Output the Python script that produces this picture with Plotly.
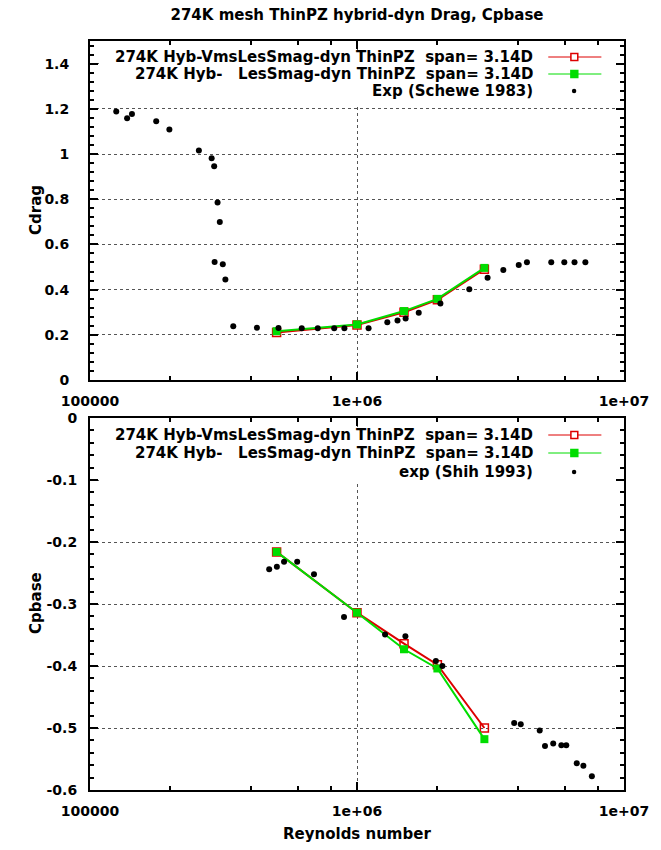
import plotly.graph_objects as go

# ---------------- data ----------------
sim_re = [5e5, 1e6, 1.5e6, 2e6, 3e6]
cd_vms = [0.210, 0.243, 0.300, 0.355, 0.490]
cd_les = [0.216, 0.246, 0.305, 0.359, 0.496]
cp_vms = [-0.216, -0.314, -0.364, -0.398, -0.500]
cp_les = [-0.216, -0.314, -0.373, -0.404, -0.518]

schewe_re = [125400, 137700, 143600, 177000, 198300, 255700, 285500, 291800,
             300400, 306300, 292900, 314300, 321400, 344000, 421800, 508000,
             621000, 713000, 821500, 897000, 1105000, 1298700, 1418000,
             1521000, 1703000, 2053000, 2634000, 3084000, 3532000, 4034000,
             4330000, 5340000, 5976000, 6526000, 7166000]
schewe_cd = [1.188, 1.158, 1.177, 1.145, 1.108, 1.015, 0.981, 0.946,
             0.785, 0.699, 0.522, 0.512, 0.445, 0.238, 0.231, 0.230,
             0.229, 0.229, 0.229, 0.229, 0.229, 0.256, 0.263,
             0.272, 0.298, 0.338, 0.402, 0.452, 0.487, 0.509,
             0.521, 0.521, 0.521, 0.521, 0.521]

shih_re = [469000, 501000, 533000, 597000, 690000, 894000, 1274000, 1518000,
           1974000, 2088000, 3878000, 4105000, 4834000, 5059000, 5431000,
           5827000, 6078000, 6653000, 7045000, 7579000]
shih_cp = [-0.244, -0.240, -0.232, -0.232, -0.252, -0.321, -0.349, -0.352,
           -0.392, -0.400, -0.492, -0.494, -0.504, -0.529, -0.525,
           -0.528, -0.528, -0.557, -0.561, -0.578]

x_tickvals = [1e5, 1e6, 1e7]
x_ticktext = ["100000", "1e+06", "1e+07"]
x_minor = [2e5, 4e5, 6e5, 8e5, 2e6, 4e6, 6e6, 8e6]
cd_tickvals = [0, 0.2, 0.4, 0.6, 0.8, 1.0, 1.2, 1.4]
cd_ticktext = ["0", "0.2", "0.4", "0.6", "0.8", "1", "1.2", "1.4"]
cp_tickvals = [0, -0.1, -0.2, -0.3, -0.4, -0.5, -0.6]
cp_ticktext = ["0", "-0.1", "-0.2", "-0.3", "-0.4", "-0.5", "-0.6"]

lab_vms = "274K Hyb-VmsLesSmag-dyn ThinPZ\u00a0\u00a0span= 3.14D"
lab_les = "274K Hyb-\u00a0\u00a0\u00a0LesSmag-dyn ThinPZ\u00a0\u00a0span= 3.14D"
lab_schewe = "Exp (Schewe 1983)"
lab_shih = "exp (Shih 1993)"

RED = "#dd0000"
GREEN = "#00dd00"
FONT = dict(family="DejaVu Sans", size=15, color="black", weight="bold")
TICKFONT = dict(family="DejaVu Sans", size=14, color="black", weight="bold")

W, H = 661, 850
L, R, T, B = 90, 28, 41, 60
PW, PH = W - L - R, H - T - B


def xp(px):
    return (px - L) / PW


def yp(py):
    return (H - B - py) / PH


fig = go.Figure()

# top panel
fig.add_trace(go.Scatter(x=sim_re, y=cd_vms, mode="lines+markers", xaxis="x", yaxis="y",
                         line=dict(color=RED, width=2),
                         marker=dict(symbol="square-open", size=8, color=RED, line=dict(width=1.5, color=RED))))
fig.add_trace(go.Scatter(x=sim_re, y=cd_les, mode="lines+markers", xaxis="x", yaxis="y",
                         line=dict(color=GREEN, width=2),
                         marker=dict(symbol="square", size=8, color=GREEN)))
fig.add_trace(go.Scatter(x=schewe_re, y=schewe_cd, mode="markers", xaxis="x", yaxis="y",
                         marker=dict(symbol="circle", size=6, color="black")))
# bottom panel
fig.add_trace(go.Scatter(x=sim_re, y=cp_vms, mode="lines+markers", xaxis="x2", yaxis="y2",
                         line=dict(color=RED, width=2),
                         marker=dict(symbol="square-open", size=8, color=RED, line=dict(width=1.5, color=RED))))
fig.add_trace(go.Scatter(x=sim_re, y=cp_les, mode="lines+markers", xaxis="x2", yaxis="y2",
                         line=dict(color=GREEN, width=2),
                         marker=dict(symbol="square", size=8, color=GREEN)))
fig.add_trace(go.Scatter(x=shih_re, y=shih_cp, mode="markers", xaxis="x2", yaxis="y2",
                         marker=dict(symbol="circle", size=6, color="black")))

common_axis = dict(showline=True, linecolor="black", linewidth=2, mirror="allticks",
                   ticks="inside", ticklen=8, tickwidth=1.5, tickcolor="black",
                   showgrid=True, gridcolor="#555555", griddash="dot", gridwidth=1,
                   zeroline=False, tickfont=TICKFONT)

xcfg = dict(common_axis, type="log", range=[5, 7], tickmode="array",
            tickvals=x_tickvals, ticktext=x_ticktext, ticklabelstandoff=7,
            minor=dict(tickmode="array", tickvals=x_minor, ticks="inside", ticklen=4,
                       tickwidth=1.5, tickcolor="black", showgrid=False))

top_lo = yp(380)
bot_hi = yp(418)

fig.update_layout(
    width=W, height=H, margin=dict(l=L, r=R, t=T, b=B),
    paper_bgcolor="white", plot_bgcolor="white", showlegend=False,
    font=FONT,
    title=dict(text="274K mesh ThinPZ hybrid-dyn Drag, Cpbase", font=FONT,
               x=0.5, xref="paper", xanchor="center",
               y=1 - 15 / H, yref="container", yanchor="middle"),
    xaxis=dict(xcfg, domain=[0, 1], anchor="y"),
    yaxis=dict(common_axis, domain=[top_lo, 1], anchor="x", range=[0, 1.5],
               tickmode="array", tickvals=cd_tickvals, ticktext=cd_ticktext,
               ticklabelstandoff=16,
               minor=dict(dtick=0.04, tick0=0, ticks="inside", ticklen=4, tickwidth=1.5,
                          tickcolor="black", showgrid=False)),
    xaxis2=dict(xcfg, domain=[0, 1], anchor="y2"),
    yaxis2=dict(common_axis, domain=[0, bot_hi], anchor="x2", range=[-0.6, 0],
                tickmode="array", tickvals=cp_tickvals, ticktext=cp_ticktext,
                ticklabelstandoff=8,
                minor=dict(dtick=0.02, tick0=0, ticks="inside", ticklen=4, tickwidth=1.5,
                           tickcolor="black", showgrid=False)),
)

# axis titles
ann = [
    dict(text="Cdrag", x=xp(35), y=yp(210), textangle=-90),
    dict(text="Cpbase", x=xp(35), y=yp(603), textangle=-90),
    dict(text="Reynolds number", x=xp(361.5), y=yp(834)),
]

shapes = []
# key boxes (opaque, like gnuplot's key) hiding grid lines, kept clear of border ticks
shapes.append(dict(type="rect", xref="paper", yref="paper", x0=xp(100), x1=xp(624),
                   y0=yp(104), y1=yp(50), fillcolor="white", line=dict(width=0), layer="above"))
shapes.append(dict(type="rect", xref="paper", yref="paper", x0=xp(100), x1=xp(624),
                   y0=yp(484), y1=yp(427), fillcolor="white", line=dict(width=0), layer="above"))


def key_row(label, ypx, kind, color):
    ann.append(dict(text=label, x=xp(543), y=yp(ypx), xanchor="right"))
    if kind in ("open", "filled"):
        shapes.append(dict(type="line", xref="paper", yref="paper", x0=xp(556), x1=xp(610),
                           y0=yp(ypx), y1=yp(ypx), line=dict(color=color, width=1), layer="above"))
        shapes.append(dict(type="rect", xref="paper", yref="paper", x0=xp(579), x1=xp(586),
                           y0=yp(ypx + 3.5), y1=yp(ypx - 3.5),
                           fillcolor=(color if kind == "filled" else "white"),
                           line=dict(color=color, width=1.5), layer="above"))
    else:
        shapes.append(dict(type="circle", xref="paper", yref="paper", x0=xp(580), x1=xp(584.5),
                           y0=yp(ypx + 2.2), y1=yp(ypx - 2.2), fillcolor="black",
                           line=dict(color="black", width=0), layer="above"))


key_row(lab_vms, 57, "open", RED)
key_row(lab_les, 74, "filled", GREEN)
key_row(lab_schewe, 91, "dot", "black")
key_row(lab_vms, 435, "open", RED)
key_row(lab_les, 453, "filled", GREEN)
key_row(lab_shih, 472, "dot", "black")

for a in ann:
    a.setdefault("xanchor", "center")
    a.update(xref="paper", yref="paper", yanchor="middle", showarrow=False, font=FONT)

fig.update_layout(annotations=ann, shapes=shapes)

fig.write_html("out.html")
